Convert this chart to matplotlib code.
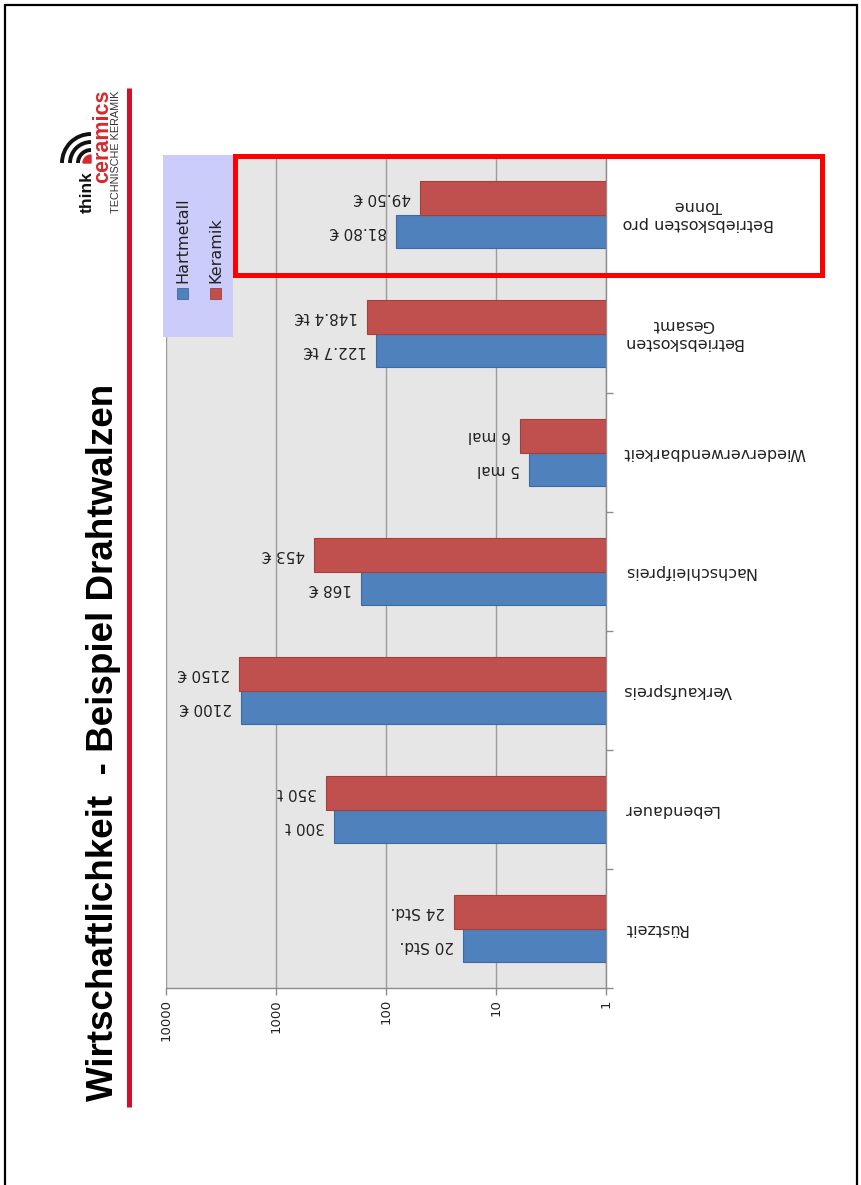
import numpy as np
import matplotlib.pyplot as plt
from matplotlib.patches import Rectangle, Arc, Wedge
from matplotlib.ticker import NullLocator

# chart data
categories = ["Rüstzeit", "Lebendauer", "Verkaufspreis", "Nachschleifpreis",
              "Wiederverwendbarkeit", "Betriebskosten\nGesamt",
              "Betriebskosten pro\nTonne"]
series = ["Hartmetall", "Keramik"]
hartmetall = [20, 300, 2100, 168, 5, 122.7, 81.8]
keramik = [24, 350, 2150, 453, 6, 148.4, 49.5]
hartmetall_labels = ["20 Std.", "300 t", "2100 €", "168 €", "5 mal", "122.7 t€", "81.80 €"]
keramik_labels = ["24 Std.", "350 t", "2150 €", "453 €", "6 mal", "148.4 t€", "49.50 €"]
tick_values = [1, 10, 100, 1000, 10000]
title = "Wirtschaftlichkeit  - Beispiel Drahtwalzen"

colors = ["#4f81bd", "#c0504d"]
edges = ["#3e6aa3", "#a43f3c"]

W, H = 862, 1185
fig = plt.figure(figsize=(W / 100, H / 100), dpi=100)
fig.patch.set_facecolor("white")


def fx(x):
    return x / W


def fy(y):
    return 1 - y / H


# main chart, drawn sideways: log value axis runs right-to-left
ax = fig.add_axes([fx(166), fy(988), (606 - 166) / W, (988 - 155) / H])
ax.set_facecolor("#e6e6e6")
ax.set_xscale("log")
ax.set_xlim(10000, 1)
ax.set_ylim(-0.5, len(categories) - 0.5)

y = np.arange(len(categories))
bh = 0.285
for vals, labels, off, c, ec in [(hartmetall, hartmetall_labels, -bh / 2, colors[0], edges[0]),
                                 (keramik, keramik_labels, bh / 2, colors[1], edges[1])]:
    vals = np.array(vals)
    ax.barh(y + off, vals - 1, left=1, height=bh, color=c, edgecolor=ec,
            linewidth=0.8, zorder=3)
    for yy, v, lbl in zip(y + off, vals, labels):
        ax.annotate(lbl, xy=(v, yy), xytext=(-9, 0), textcoords="offset pixels",
                    ha="right", va="center", rotation=180, fontsize=11,
                    color="#222222")

ax.grid(axis="x", color="#9c9c9c", linewidth=1, zorder=1)
ax.set_axisbelow(True)
ax.xaxis.set_minor_locator(NullLocator())
ax.set_xticks(tick_values)
ax.set_xticklabels([str(t) for t in tick_values], rotation=90, fontsize=9.5,
                   color="#222222")
ax.tick_params(axis="x", length=5, width=1, color="#8c8c8c", pad=3)

ax.yaxis.tick_right()
ax.set_yticks(np.arange(-0.5, len(categories) - 1, 1))
ax.set_yticklabels([])
ax.tick_params(axis="y", length=5, width=1, color="#8c8c8c", direction="out")

for s in ["top", "left"]:
    ax.spines[s].set_visible(False)
for s in ["bottom", "right"]:
    ax.spines[s].set_color("#8c8c8c")
    ax.spines[s].set_linewidth(1)

for i, cat in enumerate(categories):
    ax.text((623 - 166) / 440, i, cat, transform=ax.get_yaxis_transform(),
            rotation=180, ha="left", va="center", multialignment="center",
            fontsize=11.5, color="#222222")

# overlay in pixel units for the slide decorations
ov = fig.add_axes([0, 0, 1, 1], zorder=5)
ov.set_xlim(0, W)
ov.set_ylim(H, 0)
ov.axis("off")
ov.patch.set_alpha(0)

# slide frame
ov.plot([5, 5, 857, 857], [H, 5, 5, H], color="black", lw=1.6,
        solid_joinstyle="miter")

# title and red rule
ov.text(113, 742, title, rotation=90, rotation_mode="anchor", ha="center",
        va="baseline", fontsize=26.5, fontweight="bold",
        family="Liberation Sans", color="black")
ov.plot([129, 129], [88, 1107], color="#d0112b", lw=3.6, solid_capstyle="butt")

# logo
for r in [13, 21, 29]:
    ov.add_patch(Arc((91, 163), 2 * r, 2 * r, theta1=180, theta2=270,
                     color="#111111", lw=2.8))
ov.add_patch(Wedge((91, 163), 8, 180, 270, color="#d42a2f"))
ov.text(92, 192, "think", rotation=90, rotation_mode="anchor", ha="center",
        va="baseline", fontsize=12.5, fontweight="bold", family="Liberation Sans",
        color="#111111")
ov.text(108, 136, "ceramics", rotation=90, rotation_mode="anchor", ha="center",
        va="baseline", fontsize=15.5, fontweight="bold",
        family="Liberation Sans", color="#d42a2f")
ov.text(119, 152, "TECHNISCHE KERAMIK", rotation=90, rotation_mode="anchor",
        ha="center", va="baseline", fontsize=7.8, family="Liberation Sans",
        color="#333333")

# legend box
ov.add_patch(Rectangle((163, 155), 70, 182, fc="#ccccfa", ec="none"))
for lx, name, c, ec in zip([177, 210], series, colors, edges):
    ov.add_patch(Rectangle((lx, 288), 11, 11, fc=c, ec=ec, lw=0.6))
    ov.text(lx + 6, 283, name, rotation=90, ha="center", va="bottom",
            fontsize=11.5, color="#222222")

# highlight around the last category
ov.add_patch(Rectangle((235.5, 155.5), 587, 119, fill=False, ec="#ff0000",
                       lw=3.6, joinstyle="miter"))

fig.savefig("out.png", dpi=100)
